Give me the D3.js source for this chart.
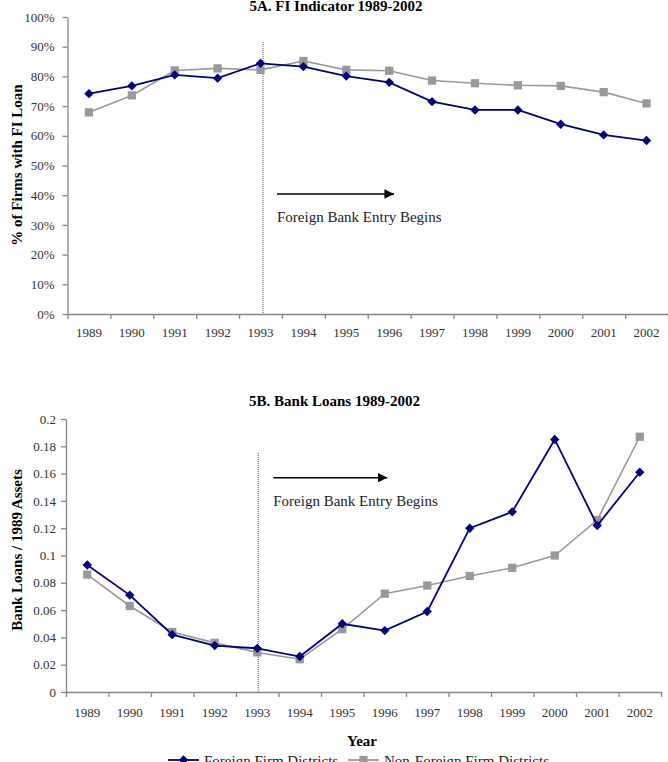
<!DOCTYPE html>
<html>
<head>
<meta charset="utf-8">
<script src="https://cdn.jsdelivr.net/npm/d3@7"></script>
<style>
  body { margin: 0; background: #fff; }
  .axis path, .axis line { stroke: #868686; stroke-width: 1.3; }
</style>
</head>
<body>
<svg id="chart"></svg>
<script>
const years = ["1989", "1990", "1991", "1992", "1993", "1994", "1995", "1996", "1997", "1998", "1999", "2000", "2001", "2002"];

// 5A: share of firms with an FI loan
const fiForeign = [0.742, 0.768, 0.805, 0.794, 0.844, 0.833, 0.801, 0.780, 0.715, 0.687, 0.687, 0.639, 0.603, 0.584];
const fiNonForeign = [0.679, 0.736, 0.820, 0.827, 0.822, 0.852, 0.822, 0.819, 0.786, 0.777, 0.770, 0.768, 0.747, 0.709];

// 5B: bank loans / 1989 assets
const loanForeign = [0.093, 0.071, 0.042, 0.034, 0.032, 0.026, 0.050, 0.045, 0.059, 0.120, 0.132, 0.185, 0.122, 0.161];
const loanNonForeign = [0.086, 0.063, 0.044, 0.036, 0.029, 0.024, 0.046, 0.072, 0.078, 0.085, 0.091, 0.100, 0.126, 0.187];

const fiTicks = [0, 0.1, 0.2, 0.3, 0.4, 0.5, 0.6, 0.7, 0.8, 0.9, 1];
const loanTicks = [0, 0.02, 0.04, 0.06, 0.08, 0.1, 0.12, 0.14, 0.16, 0.18, 0.2];

const seriesNames = ["Foreign Firm Districts", "Non-Foreign Firm Districts"];
const entryYear = "1993";
const entryLabel = "Foreign Bank Entry Begins";

const width = 668;
const height = 762;
const blue = "#000080";
const grey = "#999999";
const serif = "'Liberation Serif', 'Times New Roman', Times, serif";

const svg = d3.select("#chart").attr("width", width).attr("height", height)
  .style("display", "block")
  .attr("font-family", serif);

svg.append("defs").append("marker")
   .attr("id", "arrowhead")
   .attr("viewBox", "0 0 10 10")
   .attr("refX", 10).attr("refY", 5)
   .attr("markerWidth", 6).attr("markerHeight", 6)
   .attr("markerUnits", "strokeWidth")
   .attr("orient", "auto")
   .append("path")
   .attr("d", "M0,0 L10,5 L0,10 Z")
   .attr("fill", "#000");

const styleAxis = (g) => {
  g.attr("font-family", serif).attr("font-size", 13);
  g.selectAll("text").attr("fill", "#333").style("font-family", serif);
};

const drawPanel = (p) => {
  const x = d3.scaleBand().domain(years).range([p.left, p.right]);
  const xEdge = d3.scaleLinear().domain([0, years.length]).range([p.left, p.right]);
  const y = d3.scaleLinear().domain([0, d3.max(p.ticks)]).range([p.bottom, p.top]);
  const cx = (d) => x(d) + x.bandwidth() / 2;

  // title
  svg.append("text")
     .attr("x", p.titleX).attr("y", p.titleY)
     .attr("text-anchor", "middle")
     .attr("font-family", serif)
     .attr("font-size", 15).attr("font-weight", "bold")
     .text(p.title);

  // y axis
  svg.append("g")
     .attr("class", "axis")
     .attr("transform", "translate(" + p.left + ",0)")
     .call(d3.axisLeft(y).tickValues(p.ticks).tickFormat(p.format).tickSize(5).tickPadding(p.yPad).tickSizeOuter(0))
     .call(styleAxis);

  // x axis: boundary ticks
  svg.append("g")
     .attr("class", "axis")
     .attr("transform", "translate(0," + p.bottom + ")")
     .call(d3.axisBottom(xEdge).ticks(years.length).tickFormat("").tickSize(5).tickSizeOuter(0));

  // x axis: labels centred in bands
  const xl = svg.append("g")
     .attr("class", "axis")
     .attr("transform", "translate(0," + p.bottom + ")")
     .call(d3.axisBottom(x).tickSize(0).tickPadding(p.labelPad))
     .call(styleAxis);
  xl.select(".domain").remove();

  // y title
  svg.append("text")
     .attr("transform", "translate(17," + p.yTitleY + ") rotate(-90)")
     .attr("text-anchor", "middle")
     .attr("dominant-baseline", "central")
     .attr("font-family", serif)
     .attr("font-size", 15).attr("font-weight", "bold")
     .text(p.yLabel);

  // entry line
  const ex = cx(entryYear) + p.entryShift;
  svg.append("line")
     .attr("x1", ex).attr("x2", ex)
     .attr("y1", p.entryTop).attr("y2", p.bottom)
     .attr("stroke", "#555").attr("stroke-width", 1)
     .attr("stroke-dasharray", "1,1");

  // arrow + label
  svg.append("line")
     .attr("x1", ex + p.arrowGap).attr("x2", ex + p.arrowGap + p.arrowLen)
     .attr("y1", y(p.arrowVal)).attr("y2", y(p.arrowVal))
     .attr("stroke", "#000").attr("stroke-width", 1.6)
     .attr("marker-end", "url(#arrowhead)");
  svg.append("text")
     .attr("x", ex + p.arrowGap).attr("y", y(p.arrowVal) + 28)
     .attr("font-family", serif)
     .attr("font-size", 15).attr("fill", "#222")
     .text(entryLabel);

  const line = d3.line().x((d, i) => cx(years[i])).y((d) => y(d));

  // non-foreign (grey squares) first, foreign on top
  svg.append("path")
     .datum(p.nonForeign)
     .attr("d", line)
     .attr("fill", "none").attr("stroke", grey).attr("stroke-width", 1.6);
  svg.selectAll(null)
     .data(p.nonForeign)
     .enter()
     .append("path")
     .attr("d", d3.symbol(d3.symbolSquare, 68))
     .attr("transform", (d, i) => "translate(" + cx(years[i]) + "," + y(d) + ")")
     .attr("fill", grey);

  svg.append("path")
     .datum(p.foreign)
     .attr("d", line)
     .attr("fill", "none").attr("stroke", blue).attr("stroke-width", 1.8);
  svg.selectAll(null)
     .data(p.foreign)
     .enter()
     .append("path")
     .attr("d", d3.symbol(d3.symbolDiamond2, 56))
     .attr("transform", (d, i) => "translate(" + cx(years[i]) + "," + y(d) + ")")
     .attr("fill", blue);
};

drawPanel({
  title: "5A. FI Indicator 1989-2002",
  titleX: 336, titleY: 10.5,
  yLabel: "% of Firms with FI Loan", yTitleY: 165,
  foreign: fiForeign, nonForeign: fiNonForeign,
  ticks: fiTicks, format: d3.format(".0%"), yPad: 8,
  left: 67.5, right: 668, top: 17, bottom: 314, labelPad: 14,
  entryShift: 2.5, entryTop: 42,
  arrowGap: 14, arrowLen: 117, arrowVal: 0.404
});

drawPanel({
  title: "5B. Bank Loans 1989-2002",
  titleX: 334.5, titleY: 406,
  yLabel: "Bank Loans / 1989 Assets", yTitleY: 550,
  foreign: loanForeign, nonForeign: loanNonForeign,
  ticks: loanTicks, format: (d) => d3.format("")(+d.toFixed(2)), yPad: 5,
  left: 66, right: 661, top: 419, bottom: 692, labelPad: 16,
  entryShift: 1, entryTop: 453,
  arrowGap: 15, arrowLen: 114, arrowVal: 0.157
});

// x title
svg.append("text")
   .attr("x", 362).attr("y", 746)
   .attr("text-anchor", "middle")
   .attr("font-family", serif)
   .attr("font-size", 15).attr("font-weight", "bold")
   .text("Year");

// legend
const legendY = 760;
const legendItems = [
  { name: seriesNames[0], color: blue, symbol: d3.symbolDiamond2, size: 56, x0: 168 },
  { name: seriesNames[1], color: grey, symbol: d3.symbolSquare, size: 68, x0: 348 }
];
const lg = svg.selectAll(".legend")
   .data(legendItems)
   .enter()
   .append("g")
   .attr("class", "legend")
   .attr("transform", (d) => "translate(" + d.x0 + "," + legendY + ")");
lg.append("line")
  .attr("x1", 0).attr("x2", 31).attr("y1", 0).attr("y2", 0)
  .attr("stroke", (d) => d.color).attr("stroke-width", 1.8);
lg.append("path")
  .attr("d", (d) => d3.symbol(d.symbol, d.size)())
  .attr("transform", "translate(15.5,0)")
  .attr("fill", (d) => d.color);
lg.append("text")
  .attr("x", 36).attr("y", 6)
  .attr("font-family", serif)
  .attr("font-size", 15).attr("fill", "#222")
  .text((d) => d.name);
</script>
</body>
</html>
